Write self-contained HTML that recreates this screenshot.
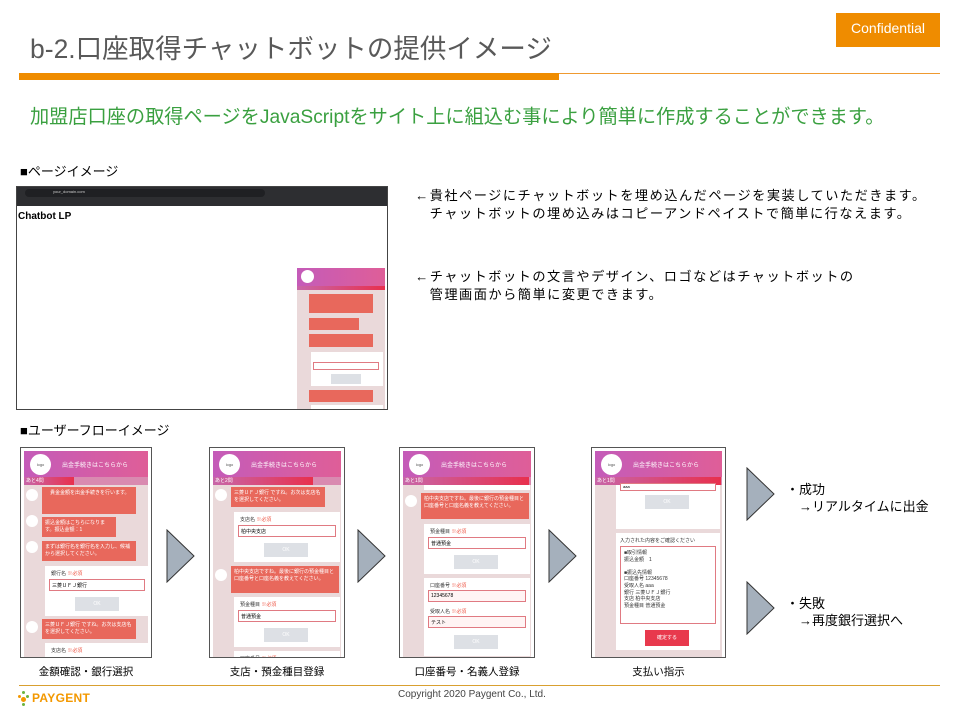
<!DOCTYPE html>
<html><head><meta charset="utf-8"><style>
*{margin:0;padding:0;box-sizing:border-box}
body{width:960px;height:720px;background:#fff;position:relative;overflow:hidden;font-family:"Liberation Sans","Noto Sans CJK JP",sans-serif;color:#000}
.a{position:absolute;white-space:nowrap}
.ph{position:absolute;border:1px solid #555;background:#fff;overflow:hidden}
.ph .in{position:absolute;left:3px;top:3px;right:3px;bottom:0;background:#ead9da;overflow:hidden}
.hd{position:absolute;left:0;top:0;right:0;height:26px;background:linear-gradient(90deg,#c45bb9,#df5e98);color:#fff;font-size:6px}
.lg{position:absolute;left:6px;top:3px;width:21px;height:21px;border-radius:50%;background:#fff;color:#555;font-size:4px;text-align:center;line-height:21px}
.pr{position:absolute;left:0;top:26px;height:8px;right:0;background:#d98ab0;font-size:5px;color:#fff;padding-left:2px;line-height:8px}
.pr i{position:absolute;left:0;top:0;bottom:0;background:linear-gradient(90deg,#c866a8,#e8304d)}
.bb{position:absolute;background:#e8685c;color:#fff;font-size:5px;padding:3px;line-height:7px;white-space:normal}
.av{position:absolute;width:12px;height:12px;border-radius:50%;background:#fff}
.cd{position:absolute;background:#fff}
.sl{position:absolute;border:1px solid #e07a82;background:#fff;font-size:5px;padding:2px;height:12px}
.ok{position:absolute;background:#dde0e5;width:44px;height:14px;color:#fff;font-size:5px;text-align:center;line-height:14px}
.lb{position:absolute;font-size:5px;color:#333}
.lb b{color:#e54;font-weight:normal}
.tri{position:absolute}
.cap{position:absolute;font-size:10.5px;text-align:center}
</style></head><body>

<div class="a" style="left:30px;top:27px;font-size:26.5px;color:#595959">b-2.口座取得チャットボットの提供イメージ</div>
<div class="a" style="left:836px;top:13px;width:104px;height:34px;background:#ef8c00;color:#fff;font-size:14px;text-align:center;line-height:30px">Confidential</div>
<div class="a" style="left:19px;top:73px;width:921px;height:1px;background:#ef9a30"></div>
<div class="a" style="left:19px;top:73px;width:540px;height:7px;background:#ef8c00"></div>
<div class="a" style="left:30px;top:101px;font-size:19.2px;color:#3aa040">加盟店口座の取得ページをJavaScriptをサイト上に組込む事により簡単に作成することができます。</div>

<div class="a" style="left:20px;top:161px;font-size:13px">■ページイメージ</div>

<!-- browser -->
<div class="a" style="left:16px;top:186px;width:372px;height:224px;border:1px solid #444;background:#fff;overflow:hidden">
  <div style="position:absolute;left:0;top:0;right:0;height:19px;background:#2d2e31"></div>
  <div style="position:absolute;left:8px;top:2px;width:240px;height:8px;border-radius:4px;background:#1f2023"></div>
  <div style="position:absolute;left:36px;top:2px;font-size:4px;color:#ccc">your_domain.com</div>
  <div style="position:absolute;left:1px;top:24px;font-size:10px;font-weight:bold">Chatbot LP</div>
  <div style="position:absolute;left:280px;top:81px;width:88px;height:145px;background:#ead9da">
    <div style="position:absolute;left:0;top:0;right:0;height:18px;background:linear-gradient(90deg,#c45bb9,#df5e98)"></div>
    <div style="position:absolute;left:4px;top:2px;width:13px;height:13px;border-radius:50%;background:#fff"></div>
    <div style="position:absolute;left:0;top:18px;right:0;height:4px;background:linear-gradient(90deg,#c866a8,#e8304d)"></div>
    <div style="position:absolute;left:12px;top:26px;width:64px;height:19px;background:#e8685c"></div>
    <div style="position:absolute;left:12px;top:50px;width:50px;height:12px;background:#e8685c"></div>
    <div style="position:absolute;left:12px;top:66px;width:64px;height:13px;background:#e8685c"></div>
    <div style="position:absolute;left:14px;top:84px;width:72px;height:34px;background:#fff"></div>
    <div style="position:absolute;left:16px;top:94px;width:66px;height:8px;border:1px solid #e07a82"></div>
    <div style="position:absolute;left:34px;top:106px;width:30px;height:10px;background:#dde0e5"></div>
    <div style="position:absolute;left:12px;top:122px;width:64px;height:12px;background:#e8685c"></div>
    <div style="position:absolute;left:14px;top:137px;width:72px;height:10px;background:#fff"></div>
  </div>
</div>

<div class="a" style="left:415px;top:187px;font-size:13.2px;line-height:18px;letter-spacing:1.5px">←貴社ページにチャットボットを埋め込んだページを実装していただきます。<br>　チャットボットの埋め込みはコピーアンドペイストで簡単に行なえます。</div>
<div class="a" style="left:415px;top:268px;font-size:13.2px;line-height:18px;letter-spacing:1.5px">←チャットボットの文言やデザイン、ロゴなどはチャットボットの<br>　管理画面から簡単に変更できます。</div>

<div class="a" style="left:20px;top:420px;font-size:13px">■ユーザーフローイメージ</div>

<!-- phone 1 -->
<div class="ph" style="left:20px;top:447px;width:132px;height:211px"><div class="in">
  <div class="hd"><div class="lg">logo</div><div style="position:absolute;left:38px;top:9px">出金手続きはこちらから</div></div>
  <div class="pr"><i style="width:50px"></i><span style="position:relative">あと4問</span></div>
  <div class="av" style="left:2px;top:38px"></div><div class="bb" style="left:18px;top:36px;width:94px;height:27px">　貴金金額を出金手続きを行います。</div>
  <div class="av" style="left:2px;top:64px"></div><div class="bb" style="left:18px;top:66px;width:74px;height:20px">振込金額はこちらになります。振込金額：1</div>
  <div class="av" style="left:2px;top:90px"></div><div class="bb" style="left:18px;top:90px;width:94px;height:20px">まずは銀行名を銀行名を入力し、候補から選択してください。</div>
  <div class="cd" style="left:21px;top:115px;width:104px;height:50px"><div class="lb" style="left:6px;top:4px">銀行名 <b>※必須</b></div><div class="sl" style="left:4px;top:13px;width:96px">三菱ＵＦＪ銀行</div><div class="ok" style="left:30px;top:31px">OK</div></div>
  <div class="av" style="left:2px;top:170px"></div><div class="bb" style="left:18px;top:168px;width:94px;height:20px">三菱ＵＦＪ銀行 ですね。お次は支店名を選択してください。</div>
  <div class="cd" style="left:21px;top:192px;width:104px;height:30px"><div class="lb" style="left:6px;top:4px">支店名 <b>※必須</b></div></div>
</div></div>

<!-- phone 2 -->
<div class="ph" style="left:209px;top:447px;width:136px;height:211px"><div class="in">
  <div class="hd"><div class="lg">logo</div><div style="position:absolute;left:38px;top:9px">出金手続きはこちらから</div></div>
  <div class="pr"><i style="width:100px"></i><span style="position:relative">あと2問</span></div>
  <div class="av" style="left:2px;top:38px"></div><div class="bb" style="left:18px;top:36px;width:94px;height:20px">三菱ＵＦＪ銀行 ですね。お次は支店名を選択してください。</div>
  <div class="cd" style="left:21px;top:61px;width:106px;height:50px"><div class="lb" style="left:6px;top:4px">支店名 <b>※必須</b></div><div class="sl" style="left:4px;top:13px;width:98px">柏中央支店</div><div class="ok" style="left:30px;top:31px">OK</div></div>
  <div class="av" style="left:2px;top:118px"></div><div class="bb" style="left:18px;top:115px;width:108px;height:27px">柏中央支店ですね。最後に銀行の預金種目と口座番号と口座名義を教えてください。</div>
  <div class="cd" style="left:21px;top:146px;width:106px;height:50px"><div class="lb" style="left:6px;top:4px">預金種目 <b>※必須</b></div><div class="sl" style="left:4px;top:13px;width:98px">普通預金</div><div class="ok" style="left:30px;top:31px">OK</div></div>
  <div class="cd" style="left:21px;top:200px;width:106px;height:20px"><div class="lb" style="left:6px;top:4px">口座番号 <b>※必須</b></div></div>
</div></div>

<!-- phone 3 -->
<div class="ph" style="left:399px;top:447px;width:136px;height:211px"><div class="in">
  <div class="hd"><div class="lg">logo</div><div style="position:absolute;left:38px;top:9px">出金手続きはこちらから</div></div>
  <div class="pr"><i style="width:126px"></i><span style="position:relative">あと1問</span></div>
  <div class="cd" style="left:21px;top:34px;width:106px;height:5px"></div>
  <div class="av" style="left:2px;top:44px"></div><div class="bb" style="left:18px;top:42px;width:108px;height:26px">柏中央支店ですね。最後に銀行の預金種目と口座番号と口座名義を教えてください。</div>
  <div class="cd" style="left:21px;top:73px;width:106px;height:50px"><div class="lb" style="left:6px;top:4px">預金種目 <b>※必須</b></div><div class="sl" style="left:4px;top:13px;width:98px">普通預金</div><div class="ok" style="left:30px;top:31px">OK</div></div>
  <div class="cd" style="left:21px;top:127px;width:106px;height:78px"><div class="lb" style="left:6px;top:4px">口座番号 <b>※必須</b></div><div class="sl" style="left:4px;top:12px;width:98px;background:#fff4f4">12345678</div><div class="lb" style="left:6px;top:30px">受取人名 <b>※必須</b></div><div class="sl" style="left:4px;top:38px;width:98px;background:#fff4f4">テスト</div><div class="ok" style="left:30px;top:57px">OK</div></div>
  <div class="cd" style="left:21px;top:209px;width:106px;height:10px"></div>
</div></div>

<!-- phone 4 -->
<div class="ph" style="left:591px;top:447px;width:135px;height:211px"><div class="in">
  <div class="hd"><div class="lg">logo</div><div style="position:absolute;left:38px;top:9px">出金手続きはこちらから</div></div>
  <div class="pr"><i style="width:126px"></i><span style="position:relative">あと1問</span></div>
  <div class="cd" style="left:21px;top:34px;width:104px;height:44px"><div class="sl" style="left:4px;top:-2px;width:96px;height:8px;font-size:4px;padding:0 2px">aaa</div><div class="ok" style="left:29px;top:10px">OK</div></div>
  <div class="cd" style="left:21px;top:82px;width:104px;height:117px">
    <div class="lb" style="left:4px;top:4px">入力された内容をご確認ください</div>
    <div style="position:absolute;left:4px;top:13px;width:96px;height:78px;border:1px solid #e07a82;font-size:5px;line-height:6.6px;padding:3px;color:#333;white-space:normal">■取引情報<br>振込金額　1<br><br>■振込先情報<br>口座番号 12345678<br>受取人名 aaa<br>銀行 三菱ＵＦＪ銀行<br>支店 柏中央支店<br>預金種目 普通預金</div>
    <div style="position:absolute;left:29px;top:97px;width:44px;height:16px;background:#e8394d;color:#fff;font-size:5px;text-align:center;line-height:16px">確定する</div>
  </div>
</div></div>

<!-- arrows -->
<svg class="tri" style="left:166px;top:529px" width="30" height="54"><polygon points="1,1 28,27 1,53" fill="#a5b0bc" stroke="#333" stroke-width="1"/></svg>
<svg class="tri" style="left:357px;top:529px" width="30" height="54"><polygon points="1,1 28,27 1,53" fill="#a5b0bc" stroke="#333" stroke-width="1"/></svg>
<svg class="tri" style="left:548px;top:529px" width="30" height="54"><polygon points="1,1 28,27 1,53" fill="#a5b0bc" stroke="#333" stroke-width="1"/></svg>
<svg class="tri" style="left:746px;top:467px" width="30" height="54"><polygon points="1,1 28,27 1,53" fill="#a5b0bc" stroke="#333" stroke-width="1"/></svg>
<svg class="tri" style="left:746px;top:581px" width="30" height="54"><polygon points="1,1 28,27 1,53" fill="#a5b0bc" stroke="#333" stroke-width="1"/></svg>

<div class="a" style="left:786px;top:481px;font-size:13px;line-height:17px">・成功<br>　→リアルタイムに出金</div>
<div class="a" style="left:786px;top:595px;font-size:13px;line-height:17px">・失敗<br>　→再度銀行選択へ</div>

<div class="cap" style="left:20px;top:664px;width:132px">金額確認・銀行選択</div>
<div class="cap" style="left:209px;top:664px;width:136px">支店・預金種目登録</div>
<div class="cap" style="left:399px;top:664px;width:136px">口座番号・名義人登録</div>
<div class="cap" style="left:591px;top:664px;width:135px">支払い指示</div>

<div class="a" style="left:19px;top:685px;width:921px;height:1px;background:#d9a030"></div>
<div class="a" style="left:18px;top:691px;width:12px;height:16px">
  <div style="position:absolute;left:4px;top:0;width:3px;height:3px;border-radius:50%;background:#6cb33f"></div>
  <div style="position:absolute;left:0;top:4px;width:3px;height:3px;border-radius:50%;background:#f39800"></div>
  <div style="position:absolute;left:3px;top:6px;width:5px;height:5px;border-radius:50%;background:#f39800"></div>
  <div style="position:absolute;left:8px;top:4px;width:3px;height:3px;border-radius:50%;background:#6cb33f"></div>
  <div style="position:absolute;left:4px;top:12px;width:3px;height:3px;border-radius:50%;background:#6cb33f"></div>
</div>
<div class="a" style="left:32px;top:691px;font-size:12px;font-weight:bold;color:#f39800;letter-spacing:0.3px">PAYGENT</div>
<div class="a" style="left:398px;top:689px;font-size:10px;color:#444">Copyright 2020 Paygent Co., Ltd.</div>
</body></html>
